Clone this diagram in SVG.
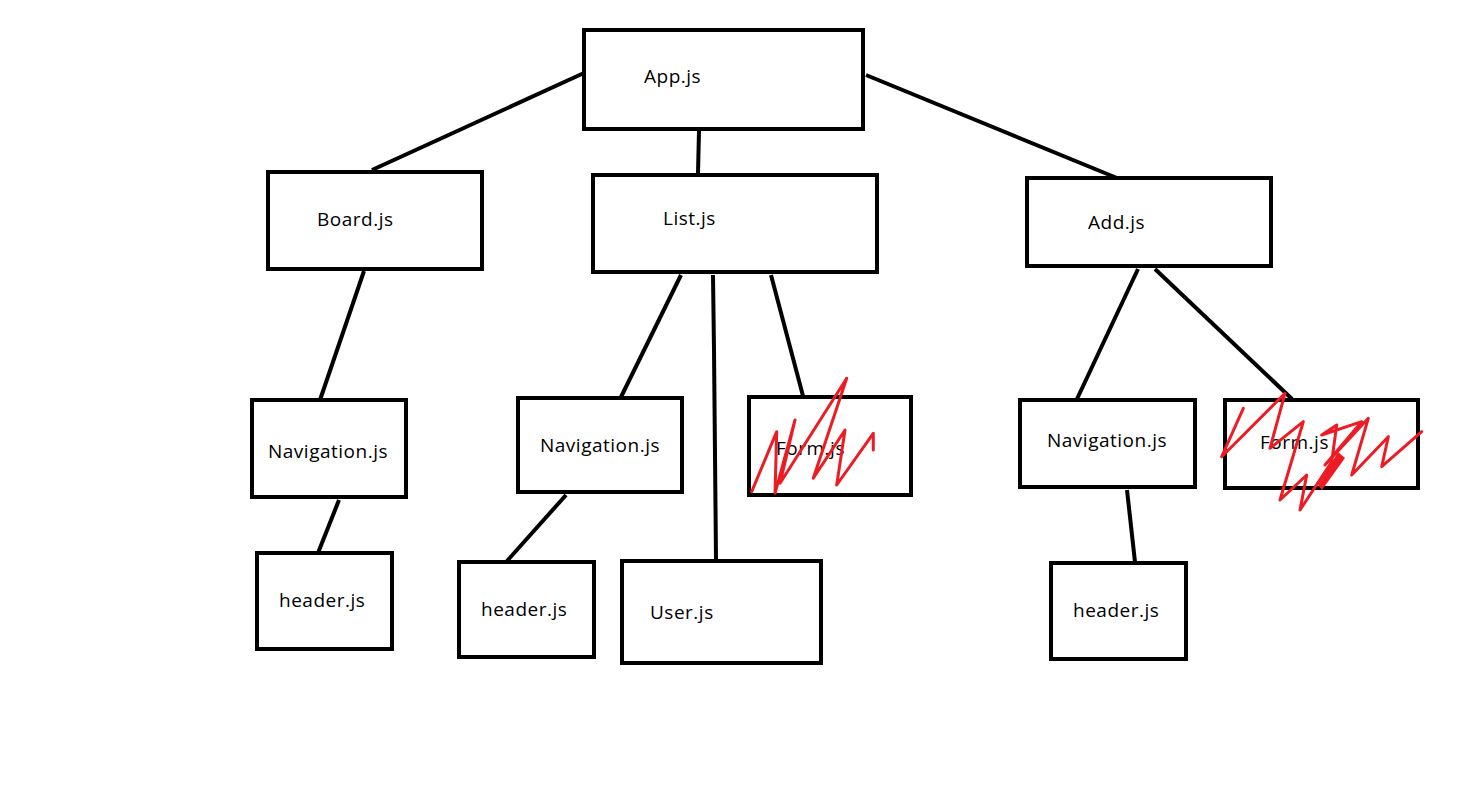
<svg xmlns="http://www.w3.org/2000/svg" width="1480" height="809" viewBox="0 0 1480 809">
<style>
.box{fill:#fff;stroke:#000;stroke-width:4}
.edge{stroke:#000;stroke-width:4;fill:none}
.lbl{font-family:"Open Sans","Liberation Sans",sans-serif;font-size:19px;letter-spacing:0.5px;fill:#000}
.scr{stroke:#ed1c24;stroke-width:3;fill:none;stroke-linejoin:round;stroke-linecap:round}
</style>
<rect width="1480" height="809" fill="#fff"/>
<g id="connectors">
<line class="edge" x1="584" y1="73" x2="372" y2="170"/>
<line class="edge" x1="699" y1="131" x2="698" y2="173"/>
<line class="edge" x1="866" y1="75" x2="1117" y2="178"/>
<line class="edge" x1="364" y1="271" x2="320" y2="400"/>
<line class="edge" x1="339" y1="500" x2="318" y2="553"/>
<line class="edge" x1="681" y1="275" x2="621" y2="397"/>
<polyline class="edge" points="713,275 714,350 716,559"/>
<line class="edge" x1="771" y1="275" x2="803" y2="396"/>
<line class="edge" x1="566" y1="495" x2="507" y2="561"/>
<line class="edge" x1="1138" y1="269" x2="1077" y2="399"/>
<line class="edge" x1="1155" y1="269" x2="1292" y2="399"/>
<line class="edge" x1="1127" y1="490" x2="1135" y2="562"/>
</g>
<g id="app"><rect class="box" x="584" y="30" width="279" height="99"/><text class="lbl" x="644" y="83">App.js</text></g>
<g id="board"><rect class="box" x="268" y="172" width="214" height="97"/><text class="lbl" x="317" y="226">Board.js</text></g>
<g id="list"><rect class="box" x="593" y="175" width="284" height="97"/><text class="lbl" x="663" y="225">List.js</text></g>
<g id="add"><rect class="box" x="1027" y="178" width="244" height="88"/><text class="lbl" x="1088" y="229">Add.js</text></g>
<g id="nav1"><rect class="box" x="252" y="400" width="154" height="97"/><text class="lbl" x="268" y="458">Navigation.js</text></g>
<g id="nav2"><rect class="box" x="518" y="398" width="164" height="94"/><text class="lbl" x="540" y="452">Navigation.js</text></g>
<g id="form1"><rect class="box" x="749" y="397" width="162" height="98"/><text class="lbl" x="776" y="455">Form.js</text></g>
<g id="nav3"><rect class="box" x="1020" y="400" width="175" height="87"/><text class="lbl" x="1047" y="447">Navigation.js</text></g>
<g id="form2"><rect class="box" x="1225" y="400" width="193" height="88"/><text class="lbl" x="1260" y="449">Form.js</text></g>
<g id="header1"><rect class="box" x="257" y="553" width="135" height="96"/><text class="lbl" x="279" y="607">header.js</text></g>
<g id="header2"><rect class="box" x="459" y="562" width="135" height="95"/><text class="lbl" x="481" y="616">header.js</text></g>
<g id="user"><rect class="box" x="622" y="561" width="199" height="102"/><text class="lbl" x="650" y="619">User.js</text></g>
<g id="header3"><rect class="box" x="1051" y="563" width="135" height="96"/><text class="lbl" x="1073" y="617">header.js</text></g>
<g id="scribbles">
<polyline class="scr" points="751.7,491.7 776.7,431.7 775,493.3 795,420 780,483.3 846.7,378.3 813.3,478.3 845,430 836.7,485 873.3,433.3 873.3,450"/>
<polyline class="scr" points="1243.3,408.3 1221.7,456.7 1285,393.3 1270,448.3 1303.3,421.7 1280,500 1306.7,475 1300,510 1331.7,461.7 1336.7,425 1321.7,435 1361.7,421.7 1325,465 1368.3,418.3 1351.7,475 1388.3,436.7 1381.7,466.7 1421.7,431.7"/>
<path d="M1318,485 L1338,452 L1345,458 L1322,490 Z" fill="#ed1c24"/>
</g>
</svg>
